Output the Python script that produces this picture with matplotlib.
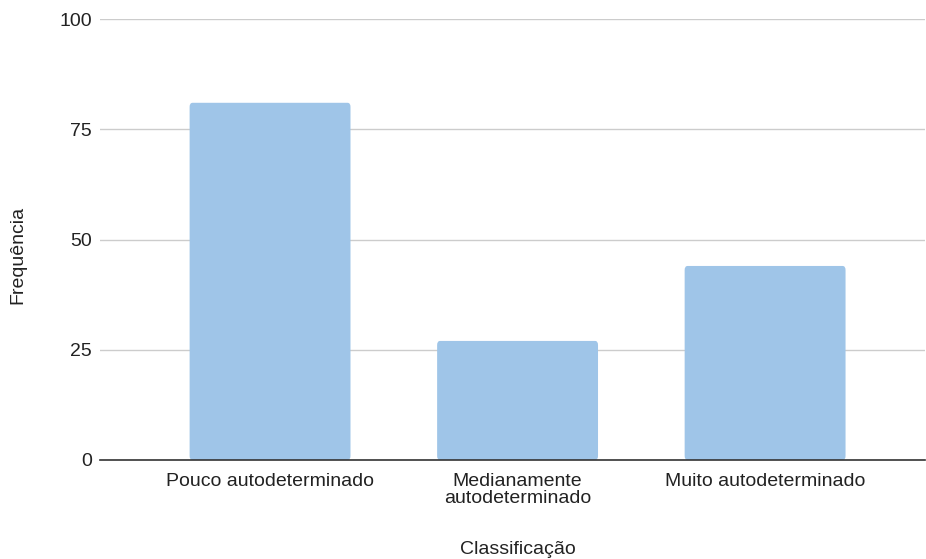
import matplotlib.pyplot as plt
from matplotlib.patches import FancyBboxPatch

categorias = ['Pouco autodeterminado', 'Medianamente\nautodeterminado', 'Muito autodeterminado']
frequencias = [81, 27, 44]
yticks = [0, 25, 50, 75, 100]

plt.rcParams['font.family'] = ['Liberation Sans', 'DejaVu Sans']

W, H = 926, 559
fig = plt.figure(figsize=(W / 100, H / 100), dpi=100)
ax = fig.add_axes([100 / W, 1 - 460 / H, 825 / W, 441 / H])

bar_color = '#9fc5e8'
bars = ax.bar(range(len(categorias)), frequencias, width=0.65, color=bar_color, zorder=3)
# soften bar corners a little
for b in bars:
    x, y = b.get_x(), b.get_y()
    w, h = b.get_width(), b.get_height()
    b.set_visible(False)
    ax.add_patch(FancyBboxPatch((x, y), w, h,
                                boxstyle='round,pad=0,rounding_size=0.012',
                                mutation_aspect=100 / 1.3,
                                fc=bar_color, ec='none', zorder=3))

fs = 14
ax.set_xlim(-0.687, 2.646)
ax.set_ylim(0, 100)
ax.set_yticks(yticks)
ax.set_xticks(range(len(categorias)))
ax.set_xticklabels(categorias, fontsize=fs, color='#222222', linespacing=1.05)
ax.tick_params(axis='y', labelsize=fs, labelcolor='#222222', length=0, pad=6)
ax.tick_params(axis='x', length=0, pad=9)

ax.grid(axis='y', color='#cccccc', linewidth=1, zorder=0)
for s in ['top', 'right', 'left']:
    ax.spines[s].set_visible(False)
ax.spines['bottom'].set_color('#333333')
ax.spines['bottom'].set_linewidth(1.2)
ax.spines['bottom'].set_zorder(4)

fig.text(518 / W, 1 - 549 / H, 'Classificação', ha='center', va='center',
         fontsize=fs, color='#222222')
fig.text(18 / W, 1 - 255 / H, 'Frequência', ha='center', va='center',
         rotation=90, fontsize=fs, color='#222222')

fig.savefig('out.png', dpi=100, facecolor='white')
